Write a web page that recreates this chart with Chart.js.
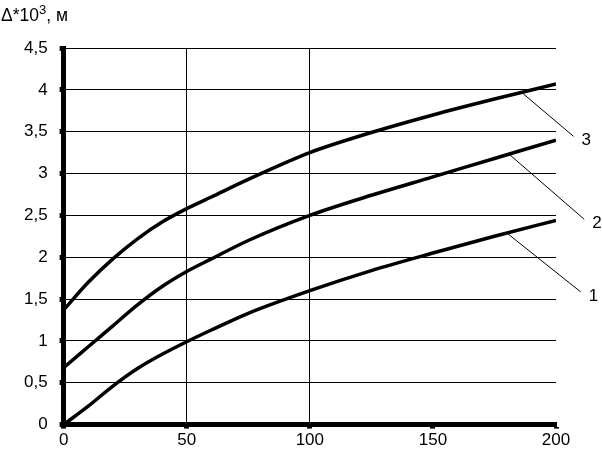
<!DOCTYPE html>
<html>
<head>
<meta charset="utf-8">
<script src="https://cdn.jsdelivr.net/npm/chart.js@4"></script>
<style>
	html, body { margin: 0; padding: 0; background: #fff; }
	#wrap { position: relative; width: 602px; height: 453px; }
	#ytitle {
		position: absolute; left: 1px; top: 2px;
		font: 17.5px "Liberation Sans", Arial, sans-serif; color: #000;
	}
	#ytitle sup { font-size: 13px; }
</style>
</head>
<body>
<div id="wrap">
	<canvas id="chart" width="602" height="453"></canvas>
	<div id="ytitle">&Delta;*10<sup>3</sup>, м</div>
</div>
<script>
const xValues = [0, 10, 20, 30, 40, 50, 60, 75, 100, 125, 150, 175, 200];
const curve1 = [0, 0.22, 0.46, 0.67, 0.84, 0.99, 1.13, 1.33, 1.6, 1.84, 2.05, 2.25, 2.44];
const curve2 = [0.68, 0.93, 1.18, 1.43, 1.65, 1.83, 1.98, 2.2, 2.5, 2.74, 2.96, 3.18, 3.4];
const curve3 = [1.37, 1.7, 1.98, 2.22, 2.42, 2.58, 2.72, 2.93, 3.25, 3.49, 3.7, 3.89, 4.07];
const curveLabels = ["1", "2", "3"];
// where each leader line touches its curve (data units)
const anchorX = [180, 181, 186];
const anchorY = [2.29, 3.23, 3.97];

const font = { family: "'Liberation Sans', Arial, sans-serif", size: 17 };

const toPoints = (ys) => xValues.map((x, i) => ({ x, y: ys[i] }));

const leaders = {
	id: "leaders",
	afterDatasetsDraw(chart) {
		const { ctx, scales } = chart;
		const offsets = [[74, 59], [75, 65], [52, 44]];
		ctx.save();
		ctx.strokeStyle = "#000";
		ctx.lineWidth = 1;
		ctx.fillStyle = "#000";
		ctx.font = `${font.size}px ${font.family}`;
		ctx.textBaseline = "middle";
		curveLabels.forEach((lbl, i) => {
			const px = scales.x.getPixelForValue(anchorX[i]);
			const py = scales.y.getPixelForValue(anchorY[i]);
			const [dx, dy] = offsets[i];
			ctx.beginPath();
			ctx.moveTo(px, py);
			ctx.lineTo(px + dx, py + dy);
			ctx.stroke();
			ctx.fillText(lbl, px + dx + 8, py + dy + 4);
		});
		ctx.restore();
	},
};

const lineSet = (data) => ({
	data: toPoints(data),
	borderColor: "#000",
	borderWidth: 3.5,
	pointRadius: 0,
	fill: false,
	cubicInterpolationMode: "monotone",
});

new Chart(document.getElementById("chart").getContext("2d"), {
	type: "line",
	data: {
		datasets: [lineSet(curve1), lineSet(curve2), lineSet(curve3)],
	},
	options: {
		responsive: false,
		animation: false,
		layout: { padding: { top: 48, right: 46, left: 12, bottom: 0 } },
		plugins: { legend: { display: false }, tooltip: { enabled: false } },
		scales: {
			x: {
				type: "linear",
				min: 0,
				max: 200,
				border: { color: "#000", width: 5 },
				grid: {
					color: (c) => (c.tick && (c.tick.value === 50 || c.tick.value === 100) ? "#000" : "rgba(0,0,0,0)"),
					lineWidth: 1,
					tickLength: 4,
					tickColor: "#000",
					tickWidth: 5,
				},
				ticks: { stepSize: 50, color: "#000", font, padding: 2 },
			},
			y: {
				min: 0,
				max: 4.5,
				border: { color: "#000", width: 5 },
				grid: {
					color: "#000",
					lineWidth: 1,
					tickLength: 4,
					tickColor: "#000",
					tickWidth: 5,
				},
				ticks: {
					stepSize: 0.5,
					color: "#000",
					font,
					padding: 12,
					callback: (v) => String(v).replace(".", ","),
				},
			},
		},
	},
	plugins: [leaders],
});
</script>
</body>
</html>
